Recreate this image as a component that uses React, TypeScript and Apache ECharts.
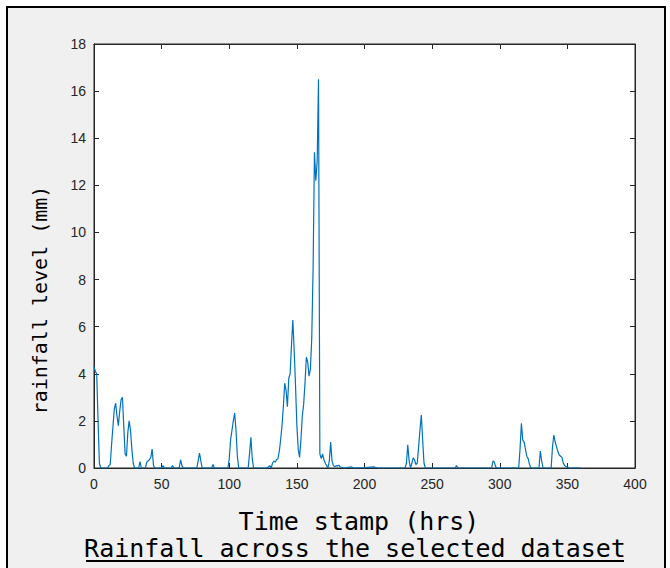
import React, { useEffect, useRef } from "react";
import * as echarts from "echarts";

// [hour, rainfall mm] readings, grouped by storm episode
const episodeA: [number, number][] = [
  [0, 4.3], [1, 4.1], [2, 4.0], [3, 2.0], [4, 0.2], [5, 0], [10, 0], [11, 0.1], [12, 0.15], [13, 1.0],
  [15, 2.5], [16, 2.75], [17, 2.2], [18, 1.8], [19, 2.4], [20, 2.9], [21, 3.0], [22, 1.8], [23, 0.6],
  [24, 0.5], [25, 1.5], [26, 2.0], [27, 1.6], [28, 0.8], [29, 0.2], [30, 0], [33, 0], [34, 0.27], [35, 0],
  [38, 0], [39, 0.25], [40, 0.3], [41, 0.35], [42, 0.45], [43, 0.8], [44, 0.1], [45, 0], [50, 0],
  [51, 0.1], [52, 0], [57, 0], [58, 0.1], [59, 0], [63, 0], [64, 0.35], [65, 0.1], [66, 0],
];

const episodeB: [number, number][] = [
  [76, 0], [77, 0.3], [78, 0.63], [79, 0.3], [80, 0], [87, 0], [88, 0.15], [89, 0], [99, 0], [100, 0.4],
  [101, 1.2], [102, 1.6], [103, 2.0], [104, 2.33], [105, 1.6], [106, 0.5], [107, 0], [114, 0], [115, 0.6],
  [116, 1.3], [117, 0.4], [118, 0], [128, 0], [129, 0.05], [130, 0.1], [131, 0],
];

const episodeC: [number, number][] = [
  [132, 0.2], [133, 0.3], [134, 0.25], [135, 0.35], [136, 0.4], [137, 0.7], [138, 1.2], [139, 1.8],
  [140, 2.6], [141, 3.6], [142, 3.3], [143, 2.6], [144, 3.8], [145, 4.0], [146, 5.2], [147, 6.28],
  [148, 5.0], [149, 3.5], [150, 1.8], [151, 0.8], [152, 0.45], [153, 1.2], [154, 2.2], [155, 2.7],
  [156, 3.6], [157, 4.7], [158, 4.5], [159, 3.9], [160, 4.2], [161, 5.5], [162, 8.5], [163, 13.4],
  [164, 12.2], [165, 13.0], [166, 16.5], [167, 0.6], [168, 0.4], [169, 0.6], [170, 0.35], [171, 0.2],
  [172, 0.1], [173, 0], [174, 0.3], [175, 1.1], [176, 0.3], [177, 0.1], [178, 0.05], [179, 0.1],
  [180, 0.08], [181, 0.12], [182, 0.05], [183, 0.03], [185, 0], [190, 0.05], [192, 0], [200, 0.02],
  [207, 0.05], [208, 0.03], [210, 0],
];

const episodeD: [number, number][] = [
  [230, 0], [231, 0.2], [232, 0.98], [233, 0.3], [234, 0], [235, 0.2], [236, 0.43], [237, 0.35],
  [238, 0.15], [239, 0.2], [240, 0.9], [241, 1.6], [242, 2.25], [243, 1.2], [244, 0.2], [245, 0],
  [267, 0], [268, 0.1], [269, 0], [294, 0], [295, 0.3], [296, 0.25], [297, 0.05], [298, 0],
];

const episodeE: [number, number][] = [
  [314, 0], [315, 0.8], [316, 1.9], [317, 1.19], [318, 1.1], [319, 0.8], [320, 0.5], [321, 0.4],
  [322, 0.15], [323, 0], [329, 0], [330, 0.72], [331, 0.3], [332, 0], [338, 0], [339, 0.9], [340, 1.4],
  [341, 1.1], [342, 0.9], [343, 0.7], [344, 0.55], [345, 0.5], [346, 0.45], [347, 0.2], [348, 0.1],
  [349, 0.05], [350, 0.05], [351, 0], [360, 0],
];

const xTicks = [0, 400, 50];
const yTicks = [0, 18, 2];

const xTitle = "Time stamp (hrs)";
const yTitle = "rainfall level (mm)";
const caption = "Rainfall across the selected dataset";

const AXIS = "#262626";
const MONO = "'DejaVu Sans Mono', monospace";
const SANS = "'Liberation Sans', Arial, sans-serif";

export default function App() {
  const ref = useRef<HTMLDivElement>(null);
  useEffect(() => {
    if (!ref.current) return;
    const chart = echarts.init(ref.current, undefined, { renderer: "svg" });
    const data = [...episodeA, ...episodeB, ...episodeC, ...episodeD, ...episodeE];
    const tickCommon = { inside: true, length: 5, lineStyle: { color: AXIS, width: 1 } };
    const lineCommon = { show: true, onZero: false, lineStyle: { color: AXIS, width: 1 } };
    const xBase = { type: "value", min: xTicks[0], max: xTicks[1], interval: xTicks[2] };
    const yBase = { type: "value", min: yTicks[0], max: yTicks[1], interval: yTicks[2] };
    chart.setOption({
      animation: false,
      backgroundColor: "transparent",
      grid: {
        left: 94,
        top: 44,
        right: 35,
        bottom: 100,
        show: true,
        backgroundColor: "#ffffff",
        borderColor: AXIS,
        borderWidth: 1,
      },
      xAxis: [
        {
          ...xBase,
          position: "bottom",
          axisLine: lineCommon,
          axisTick: tickCommon,
          splitLine: { show: false },
          axisLabel: { color: AXIS, fontSize: 14, fontFamily: SANS, margin: 9 },
        },
        {
          ...xBase,
          position: "top",
          axisLine: lineCommon,
          axisTick: tickCommon,
          splitLine: { show: false },
          axisLabel: { show: false },
        },
      ],
      yAxis: [
        {
          ...yBase,
          position: "left",
          axisLine: lineCommon,
          axisTick: tickCommon,
          splitLine: { show: false },
          axisLabel: { color: AXIS, fontSize: 14, fontFamily: SANS, margin: 8 },
        },
        {
          ...yBase,
          position: "right",
          axisLine: lineCommon,
          axisTick: tickCommon,
          splitLine: { show: false },
          axisLabel: { show: false },
        },
      ],
      series: [
        {
          type: "line",
          data,
          xAxisIndex: 0,
          yAxisIndex: 0,
          showSymbol: false,
          symbol: "none",
          lineStyle: { color: "#0072BD", width: 1.2 },
          clip: true,
        },
      ],
      graphic: [
        {
          type: "text",
          x: 359,
          y: 521,
          style: {
            text: xTitle,
            font: `25px ${MONO}`,
            fill: "#000",
            align: "center",
            verticalAlign: "middle",
          },
        },
        {
          type: "text",
          x: 40,
          y: 300,
          rotation: Math.PI / 2,
          style: {
            text: yTitle,
            font: `20px ${MONO}`,
            fill: "#000",
            align: "center",
            verticalAlign: "middle",
          },
        },
        {
          type: "text",
          x: 355,
          y: 548,
          style: {
            text: caption,
            font: `25px ${MONO}`,
            fill: "#000",
            align: "center",
            verticalAlign: "middle",
          },
        },
        {
          type: "line",
          shape: { x1: 86, y1: 561, x2: 624, y2: 561 },
          style: { stroke: "#000", lineWidth: 2 },
        },
      ],
    });
    return () => chart.dispose();
  }, []);
  return (
    <div style={{ position: "absolute", left: 0, top: 0, width: 670, height: 568, background: "#fff" }}>
      <div
        style={{
          position: "absolute",
          left: 6,
          top: 6,
          width: 656,
          height: 562,
          border: "2px solid #000",
          borderBottom: "none",
          background: "#f0f0f0",
        }}
      />
      <div ref={ref} style={{ position: "absolute", left: 0, top: 0, width: 670, height: 568 }} />
    </div>
  );
}
